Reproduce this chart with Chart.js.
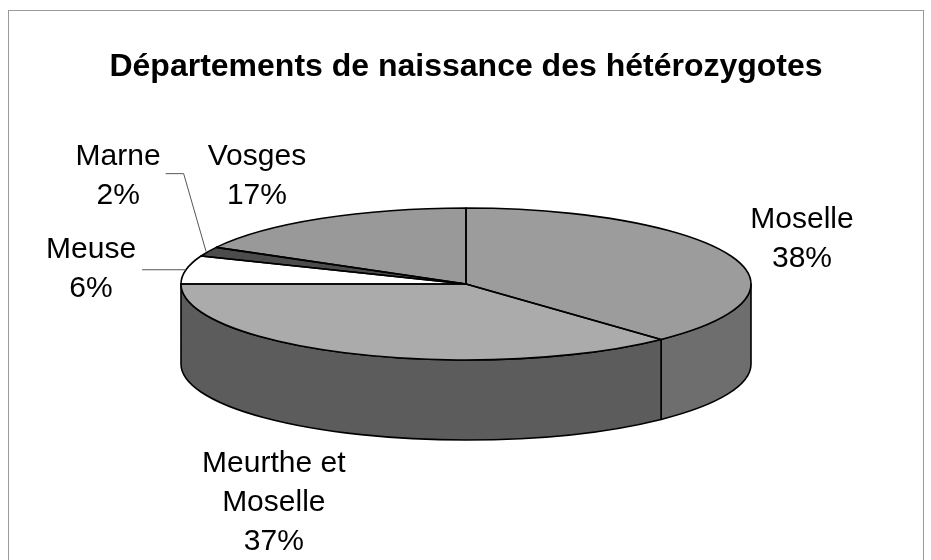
<!DOCTYPE html>
<html><head><meta charset="utf-8">
<script src="https://cdn.jsdelivr.net/npm/chart.js@4.4.0/dist/chart.umd.min.js"></script>
<style>html,body{margin:0;padding:0;background:#fff}canvas{display:block}</style>
</head><body>
<canvas id="c" width="931" height="560"></canvas>
<script>
// ---- data ----
const chartTitle = 'Départements de naissance des hétérozygotes';
const categories = ['Moselle', 'Meurthe et Moselle', 'Meuse', 'Marne', 'Vosges'];
const values = [38, 37, 6, 2, 17];
const labelLines = [['Moselle'], ['Meurthe et', 'Moselle'], ['Meuse'], ['Marne'], ['Vosges']];

// ---- styles / layout ----
const topColors = ['#9c9c9c', '#ababab', '#ffffff', '#4c4c4c', '#999999'];
const sideColors = ['#6e6e6e', '#5c5c5c', '#e0e0e0', '#333333', '#666666'];
const labelOffsets = [[71, -19], [-79, 147], [-95, -3], [-90, -78], [-64, -45]];
const leaderStyle = ['none', 'none', 'straight', 'elbow', 'none'];
const TILT = 76 / 285, DEPTH = 80, RADIUS = 285;
const FONT = '"Liberation Sans", Arial, sans-serif';
const LABEL_SIZE = 30, LINE_H = 39;

const total = values.reduce((s, v) => s + v, 0);
const pctText = values.map(v => Math.round(v / total * 100) + '%');

function ellPt(x, y, R, ry, a, dy) {
  return [x + R * Math.cos(a), y + ry * Math.sin(a) + (dy || 0)];
}

const pie3d = {
  id: 'pie3d',
  beforeDraw(chart) {
    const ctx = chart.ctx;
    ctx.save();
    ctx.strokeStyle = '#9a9a9a';
    ctx.lineWidth = 1;
    ctx.strokeRect(8.5, 10.5, 915, 600);
    ctx.restore();
  },
  beforeDatasetsDraw(chart) {
    const ctx = chart.ctx;
    const arcs = chart.getDatasetMeta(0).data;
    ctx.save();
    ctx.lineWidth = 1.6; ctx.strokeStyle = '#000'; ctx.lineJoin = 'round';
    arcs.forEach((a, i) => {
      const p = a.getProps(['x', 'y', 'startAngle', 'endAngle', 'outerRadius'], true);
      const R = p.outerRadius, ry = R * TILT;
      for (const base of [0, 2 * Math.PI]) {
        const a1 = Math.max(p.startAngle, base), a2 = Math.min(p.endAngle, base + Math.PI);
        if (a2 <= a1) continue;
        ctx.beginPath();
        ctx.ellipse(p.x, p.y, R, ry, 0, a1, a2);
        const b = ellPt(p.x, p.y, R, ry, a2, DEPTH);
        ctx.lineTo(b[0], b[1]);
        ctx.ellipse(p.x, p.y + DEPTH, R, ry, 0, a2, a1, true);
        ctx.closePath();
        ctx.fillStyle = sideColors[i];
        ctx.fill();
        ctx.stroke();
      }
    });
    ctx.restore();
    const c = arcs[0];
    ctx.save();
    ctx.translate(c.x, c.y);
    ctx.scale(1, TILT);
    ctx.translate(-c.x, -c.y);
  },
  afterDatasetsDraw(chart) {
    const ctx = chart.ctx;
    ctx.restore();
    const arcs = chart.getDatasetMeta(0).data;
    ctx.save();
    ctx.lineWidth = 1.6; ctx.strokeStyle = '#000'; ctx.lineJoin = 'round';
    arcs.forEach((a) => {
      const p = a.getProps(['x', 'y', 'startAngle', 'endAngle', 'outerRadius'], true);
      const R = p.outerRadius, ry = R * TILT;
      ctx.beginPath();
      ctx.moveTo(p.x, p.y);
      const s = ellPt(p.x, p.y, R, ry, p.startAngle);
      ctx.lineTo(s[0], s[1]);
      ctx.ellipse(p.x, p.y, R, ry, 0, p.startAngle, p.endAngle);
      ctx.closePath();
      ctx.stroke();
    });
    // labels
    ctx.font = LABEL_SIZE + 'px ' + FONT;
    ctx.fillStyle = '#000';
    ctx.textAlign = 'center';
    ctx.textBaseline = 'alphabetic';
    const capH = LABEL_SIZE * 0.716;
    arcs.forEach((a, i) => {
      const p = a.getProps(['x', 'y', 'startAngle', 'endAngle', 'outerRadius'], true);
      const R = p.outerRadius, ry = R * TILT;
      const mid = (p.startAngle + p.endAngle) / 2;
      const m = ellPt(p.x, p.y, R, ry, mid);
      const lx = m[0] + labelOffsets[i][0], ly = m[1] + labelOffsets[i][1];
      const lines = labelLines[i].concat([pctText[i]]);
      const n = lines.length;
      let maxW = 0;
      lines.forEach((t, k) => {
        const by = ly + (k - (n - 1) / 2) * LINE_H + capH / 2;
        ctx.fillText(t, lx, by);
        maxW = Math.max(maxW, ctx.measureText(t).width);
      });
      if (leaderStyle[i] !== 'none') {
        ctx.save();
        ctx.lineWidth = 1; ctx.strokeStyle = '#555';
        ctx.beginPath();
        if (leaderStyle[i] === 'straight') {
          ctx.moveTo(lx + maxW / 2 + 6, m[1]);
          ctx.lineTo(m[0], m[1]);
        } else {
          const sx = lx + maxW / 2 + 5;
          ctx.moveTo(sx, ly);
          ctx.lineTo(sx + 18, ly);
          ctx.lineTo(m[0] - 2, m[1]);
        }
        ctx.stroke();
        ctx.restore();
      }
    });
    ctx.restore();
  }
};

new Chart(document.getElementById('c'), {
  type: 'pie',
  data: {
    labels: categories,
    datasets: [{
      data: values,
      backgroundColor: topColors,
      borderWidth: 0,
      hoverOffset: 0,
      radius: RADIUS
    }]
  },
  options: {
    responsive: false,
    animation: false,
    events: [],
    layout: { padding: { left: 1, right: 0, top: 0, bottom: 88.4 } },
    plugins: {
      legend: { display: false },
      tooltip: { enabled: false },
      title: {
        display: true,
        text: chartTitle,
        color: '#000',
        font: { family: FONT, size: 32, weight: 'bold' },
        padding: { top: 48, bottom: 10 }
      }
    }
  },
  plugins: [pie3d]
});
</script>
</body></html>
